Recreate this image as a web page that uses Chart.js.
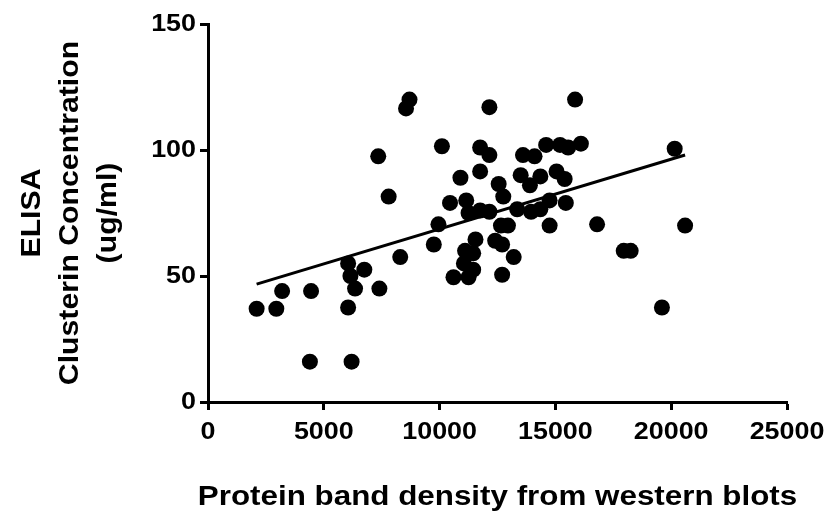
<!DOCTYPE html>
<html>
<head>
<meta charset="utf-8">
<script src="https://cdn.jsdelivr.net/npm/chart.js@4.4.1/dist/chart.umd.min.js"></script>
<style>
html,body{margin:0;padding:0;background:#fff;}
#wrap{width:829px;height:518px;}
</style>
</head>
<body>
<div id="wrap"><canvas id="elisaChart" width="829" height="518"></canvas></div>
<script>
//Band density (x) vs ELISA clusterin (y)
var bandDensity = [2100,2950,3200,4450,4400,6200,6050,6150,6350,6050,6750,7400,7350,7800,8300,8550,8700,
	12150,15850,10100,11750,12150,13600,14100,14600,15200,15550,16100,11750,10900,12550,12750,13500,13900,
	14350,15050,15400,10450,11150,11250,11750,12150,13350,13950,14350,14750,15450,9950,12650,12950,14750,
	16800,9750,11550,12400,12700,11100,11450,13200,11050,11450,10600,11250,12700,20150,20600,17950,18250,19600];
var clusterin = [37,37,44,44,16,16,55,50,45,37.5,52.5,45,97.5,81.5,57.5,116.5,120,
	117,120,101.5,101,98,98,97.5,102,102,101,102.5,91.5,89,86.5,81.5,90,86,
	89.5,91.5,88.5,79,80,75,76,75.5,76.5,75.5,76.5,80,79,70.5,70,70,70,
	70.5,62.5,64.5,64,62.5,60,59,57.5,55,52.5,49.5,49.5,50.5,100.5,70,60,60,37.5];
//Linear fit end points
var fitX = [2100,20600];
var fitY = [46.8,98];
var xTicks = [0,5000,10000,15000,20000,25000];
var yTicks = [0,50,100,150];

var points = bandDensity.map(function(v,i){return {x:v,y:clusterin[i]};});
var fitLine = fitX.map(function(v,i){return {x:v,y:fitY[i]};});
var fontName = "'Liberation Sans', Arial, sans-serif";

//Slightly wide lettering: stretch every label along its own baseline
var textStretch = 1.12;
var baseFillText = CanvasRenderingContext2D.prototype.fillText;
CanvasRenderingContext2D.prototype.fillText = function(text,x,y){
	this.save();
	this.translate(x,y);
	this.scale(textStretch,1);
	baseFillText.call(this,text,0,0);
	this.restore();
};

var ctx = document.getElementById("elisaChart");
var elisaChart = new Chart(ctx,{
	type:'scatter',
	data:{
		datasets:[{
			label:'Samples',
			data:points,
			backgroundColor:'#000',
			borderColor:'#000',
			pointRadius:8,
			pointHoverRadius:8,
			borderWidth:0
		},{
			label:'Fit',
			type:'line',
			data:fitLine,
			borderColor:'#000',
			borderWidth:3,
			pointRadius:0,
			fill:false
		}]
	},
	options:{
		responsive:false,
		animation:false,
		clip:false,
		layout:{padding:{top:24,right:42,left:0,bottom:0}},
		plugins:{legend:{display:false},tooltip:{enabled:false}},
		scales:{
			x:{
				type:'linear',
				min:0,
				max:25000,
				afterBuildTicks:function(s){s.ticks = xTicks.map(function(v){return {value:v};});},
				afterFit:function(s){s.height = 116;},
				border:{color:'#000',width:3},
				grid:{drawOnChartArea:false,color:'#000',tickLength:8,tickWidth:3},
				ticks:{color:'#000',padding:8,maxRotation:0,autoSkip:false,
					callback:function(v){return String(v);},
					font:{family:fontName,size:24,weight:'bold'}},
				title:{display:true,text:'Protein band density from western blots',color:'#000',
					padding:{top:0,bottom:4},font:{family:fontName,size:28,weight:'bold'}}
			},
			y:{
				type:'linear',
				min:0,
				max:150,
				afterBuildTicks:function(s){s.ticks = yTicks.map(function(v){return {value:v};});},
				afterFit:function(s){s.width = 208;},
				border:{color:'#000',width:3},
				grid:{drawOnChartArea:false,color:'#000',tickLength:8,tickWidth:3},
				ticks:{color:'#000',padding:4,callback:function(v){return String(v);},
					font:{family:fontName,size:24,weight:'bold'}},
				title:{display:true,text:['ELISA','Clusterin Concentration','(ug/ml)'],color:'#000',
					padding:{top:14,bottom:0},font:{family:fontName,size:27,weight:'bold',lineHeight:1.4}}
			}
		}
	}
});
</script>
</body>
</html>
